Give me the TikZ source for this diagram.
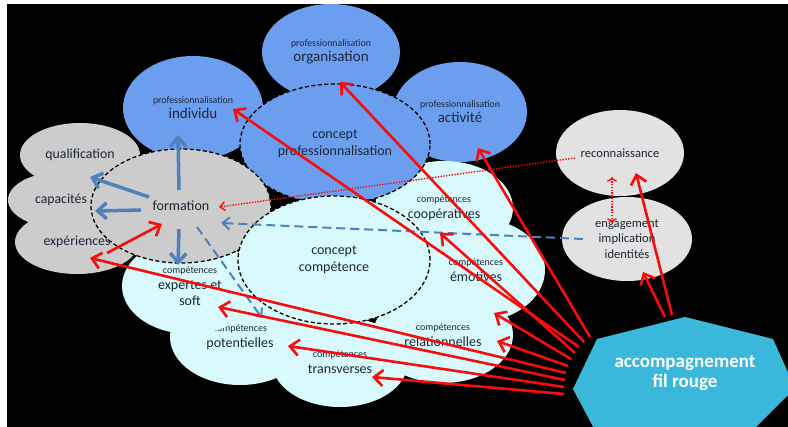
\documentclass[tikz,border=0pt]{standalone}
\usepackage{fontspec}
\setmainfont{Carlito}
\usetikzlibrary{arrows.meta,shapes.geometric}
\definecolor{profblue}{RGB}{108,158,240}
\definecolor{compcyan}{RGB}{216,250,252}
\definecolor{formgray}{RGB}{204,204,204}
\definecolor{recgray}{RGB}{226,226,226}
\definecolor{accteal}{RGB}{58,184,220}
\definecolor{arrred}{RGB}{250,12,12}
\definecolor{arrblue}{RGB}{79,129,189}
\definecolor{txtdark}{RGB}{30,38,56}
\newcommand{\smtxt}[1]{{\fontsize{9.8}{11}\selectfont #1}}
\newcommand{\cptxt}[1]{{\fontsize{10}{11}\selectfont #1}}
\tikzset{
  ell/.style={ellipse, inner sep=0pt, align=center, text=txtdark},
  pell/.style={ell, fill=profblue, font=\fontsize{15}{15}\selectfont},
  cell/.style={ell, fill=compcyan, font=\fontsize{14}{16}\selectfont},
  gell/.style={ell, fill=formgray, font=\fontsize{13.8}{16}\selectfont},
  rell/.style={ell, fill=recgray, font=\fontsize{12.6}{15.5}\selectfont},
  dbrd/.style={draw=black, line width=1.3pt, dash pattern=on 4pt off 2.5pt, font=\fontsize{14}{17}\selectfont},
  rarr/.style={-{Straight Barb[length=9pt,width=16pt]}, arrred, line width=2.6pt},
  rdot/.style={-{Straight Barb[length=5pt,width=9pt]}, arrred, line width=1.4pt, dash pattern=on 1.4pt off 1.4pt},
  barr/.style={-{Straight Barb[length=9pt,width=16pt]}, arrblue, line width=3.5pt},
  bdsh/.style={-{Straight Barb[length=7pt,width=12pt]}, arrblue, line width=2pt, dash pattern=on 9pt off 5pt},
}
\begin{document}
\begin{tikzpicture}[x=1pt,y=-1pt]
\useasboundingbox (0,0) rectangle (788,427);
\fill[white] (0,0) rectangle (788,427);
\fill[black] (7,4) rectangle (788,427);
\begin{scope}
\clip (7,4) rectangle (788,427);
\node[pell, minimum width=138pt, minimum height=96pt] (orga) at (331,52) {\smtxt{professionnalisation}\\organisation};
\node[pell, minimum width=140pt, minimum height=104pt] (indiv) at (193,108) {\smtxt{professionnalisation}\\individu};
\node[pell, minimum width=134pt, minimum height=100pt] (activ) at (460,112) {\smtxt{professionnalisation}\\activité};
\node[gell, minimum width=120pt, minimum height=64pt] (quali) at (80,155) {qualification};
\node[gell, minimum width=106pt, minimum height=56pt] (capac) at (61,200) {capacités};
\node[gell, minimum width=124pt, minimum height=64pt] (exper) at (77,242) {expériences};
\node[cell, minimum width=136pt, minimum height=90pt] (transv) at (340,362) {\cptxt{compétences}\\transverses};
\node[cell, minimum width=140pt, minimum height=96pt] (relat) at (443,335) {\cptxt{compétences}\\relationnelles};
\node[cell, minimum width=140pt, minimum height=96pt] (potent) at (240,337) {\cptxt{compétences}\\potentielles};
\node[cell, minimum width=136pt, minimum height=96pt] (expsoft) at (190,286) {\cptxt{compétences}\\expertes et\\soft};
\node[cell, minimum width=138pt, minimum height=94pt] (coop) at (444,208) {\cptxt{compétences}\\coopératives};
\node[cell, minimum width=138pt, minimum height=104pt] (emot) at (476,270) {\cptxt{compétences}\\émotives};
\node[pell, dbrd, minimum width=190pt, minimum height=120pt] (cprof) at (335,144) {concept\\professionnalisation};
\node[gell, dbrd, minimum width=180pt, minimum height=114pt] (form) at (181,206) {formation};
\node[cell, dbrd, minimum width=192pt, minimum height=128pt] (ccomp) at (334,260) {concept\\compétence};
\node[rell, minimum width=128pt, minimum height=86pt] (recon) at (620,153) {reconnaissance};
\node[rell, minimum width=130pt, minimum height=84pt] (engag) at (627,239) {engagement\\implication\\identités};
\fill[accteal] (573,389) -- (597,339) -- (685,317) -- (773,339) -- (795,388) -- (743,440) -- (600,440) -- cycle;
\node[font=\bfseries\fontsize{19}{20}\selectfont, text=white, align=center] (acc) at (685,373) {accompagnement\\fil rouge};
\draw[barr] ([shift={(-2,-16)}]form.center) -- ([shift={(-15,27)}]indiv.center);
\draw[barr] ([shift={(-32,-9)}]form.center) -- ([shift={(10,22)}]quali.center);
\draw[barr] ([shift={(-40,4)}]form.center) -- ([shift={(34,11)}]capac.center);
\draw[barr] ([shift={(-2,23)}]form.center) -- ([shift={(-12,-21)}]expsoft.center);
\draw[bdsh] ([shift={(16,21)}]form.center) -- ([shift={(22,-19)}]potent.center);
\draw[bdsh] ([shift={(-44,0)}]engag.center) -- ([shift={(40,17)}]form.center);
\draw[rdot] ([shift={(-45,5)}]recon.center) -- ([shift={(38,1)}]form.center);
\draw[rdot, <->] ([shift={(-8,24)}]recon.center) -- ([shift={(-15,-16)}]engag.center);
\draw[rarr] ([shift={(30,11)}]exper.center) -- ([shift={(-19,18)}]form.center);
\draw[rarr] ([shift={(-95,-36)}]acc.center) -- ([shift={(18,36)}]activ.center);
\draw[rarr] ([shift={(-101,-31)}]acc.center) -- ([shift={(9,30)}]orga.center);
\draw[rarr] ([shift={(-106,-26)}]acc.center) -- ([shift={(40,1)}]indiv.center);
\draw[rarr] ([shift={(-110,-20)}]acc.center) -- ([shift={(-4,25)}]coop.center);
\draw[rarr] ([shift={(-114,-14)}]acc.center) -- ([shift={(18,43)}]emot.center);
\draw[rarr] ([shift={(-117,-7)}]acc.center) -- ([shift={(54,6)}]relat.center);
\draw[rarr] ([shift={(-119,0)}]acc.center) -- ([shift={(13,16)}]exper.center);
\draw[rarr] ([shift={(-120,7)}]acc.center) -- ([shift={(28,21)}]expsoft.center);
\draw[rarr] ([shift={(-121,14)}]acc.center) -- ([shift={(48,9)}]potent.center);
\draw[rarr] ([shift={(-121,21)}]acc.center) -- ([shift={(32,15)}]transv.center);
\draw[rarr] ([shift={(-13,-58)}]acc.center) -- ([shift={(16,20)}]recon.center);
\draw[rarr] ([shift={(-20,-56)}]acc.center) -- ([shift={(16,33)}]engag.center);
\end{scope}
\end{tikzpicture}
\end{document}
